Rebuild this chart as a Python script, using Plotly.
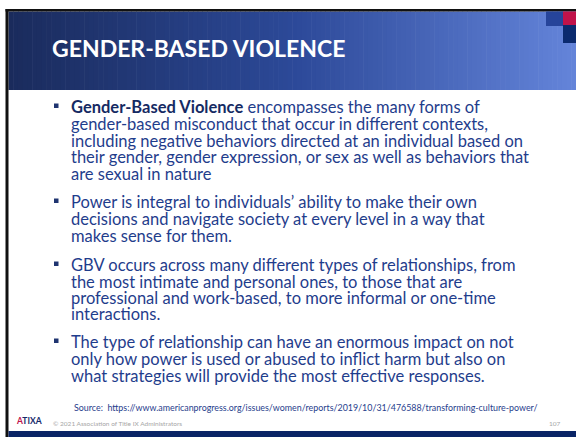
import plotly.graph_objects as go

# ---------------- content ----------------
title_text = "GENDER-BASED VIOLENCE"

bullet1 = [
    "<b><span style='color:#152a63'>Gender-Based Violence</span></b> encompasses the many forms of",
    "gender-based misconduct that occur in different contexts,",
    "including negative behaviors directed at an individual based on",
    "their gender, gender expression, or sex as well as behaviors that",
    "are sexual in nature",
]
bullet2 = [
    "Power is integral to individuals’ ability to make their own",
    "decisions and navigate society at every level in a way that",
    "makes sense for them.",
]
bullet3 = [
    "GBV occurs across many different types of relationships, from",
    "the most intimate and personal ones, to those that are",
    "professional and work-based, to more informal or one-time",
    "interactions.",
]
bullet4 = [
    "The type of relationship can have an enormous impact on not",
    "only how power is used or abused to inflict harm but also on",
    "what strategies will provide the most effective responses.",
]
bullets = [bullet1, bullet2, bullet3, bullet4]

source_text = "Source:  https://www.americanprogress.org/issues/women/reports/2019/10/31/476588/transforming-culture-power/"
copyright_text = "© 2021 Association of Title IX Administrators"
page_number = "107"
logo_text = "<b><span style='color:#c0134a'>A</span>TIXA</b>"

# ---------------- styling ----------------
W, H = 576, 437
BODY_FONT = "Lato, sans-serif"
TEXT_COLOR = "#1f3d8c"

fig = go.Figure()
shapes = []
annotations = []

# frame lines
shapes.append(dict(type="rect", x0=5.5, x1=W, y0=9, y1=11.5, fillcolor="#111111", line_width=0))
shapes.append(dict(type="rect", x0=5.5, x1=8.5, y0=9, y1=H, fillcolor="#111111", line_width=0))

# header gradient
hx0, hx1, hy0, hy1 = 8.5, W, 11.5, 90
stops = [(0.0, (26, 43, 92)), (0.5, (44, 73, 152)), (1.0, (100, 132, 218))]
def grad(t):
    for (t0, c0), (t1, c1) in zip(stops[:-1], stops[1:]):
        if t <= t1:
            f = (t - t0) / (t1 - t0)
            return "rgb(%d,%d,%d)" % tuple(round(a + (b - a) * f) for a, b in zip(c0, c1))
    return "rgb(%d,%d,%d)" % stops[-1][1]
N = 120
for i in range(N):
    xa = hx0 + (hx1 - hx0) * i / N
    xb = hx0 + (hx1 - hx0) * (i + 1) / N + 0.6
    shapes.append(dict(type="rect", x0=xa, x1=xb, y0=hy0, y1=hy1,
                       fillcolor=grad((i + 0.5) / N), line_width=0, layer="below"))

# corner squares
shapes.append(dict(type="rect", x0=546, x1=563, y0=11.5, y1=26, fillcolor="#26449a", line_width=0))
shapes.append(dict(type="rect", x0=563, x1=W, y0=11.5, y1=25, fillcolor="#c0134a", line_width=0))
shapes.append(dict(type="rect", x0=563, x1=W, y0=25, y1=43, fillcolor="#0b2a6e", line_width=0))

# footer bar
shapes.append(dict(type="rect", x0=8.5, x1=W, y0=431, y1=H, fillcolor="#0a2466", line_width=0))

# title
annotations.append(dict(x=50, y=48, xref="x", yref="y", text="<b>" + title_text + "</b>",
                        showarrow=False, xanchor="left", yanchor="middle",
                        font=dict(family=BODY_FONT, size=23, color="white")))

# bullets
bullet_tops = [[100, 117, 134, 150, 167], [195, 212, 229], [258, 275, 291, 307], [335, 352, 369]]
for lines, tops in zip(bullets, bullet_tops):
    shapes.append(dict(type="rect", x0=54, x1=58.5, y0=tops[0] + 3.5, y1=tops[0] + 8,
                       fillcolor="#1f3470", line_width=0))
    for line, top in zip(lines, tops):
        annotations.append(dict(x=68.5, y=top + 7, xref="x", yref="y", text=line,
                                showarrow=False, xanchor="left", yanchor="middle",
                                font=dict(family=BODY_FONT, size=16.5, color=TEXT_COLOR)))

# source
annotations.append(dict(x=72, y=407, xref="x", yref="y", text=source_text,
                        showarrow=False, xanchor="left", yanchor="middle",
                        font=dict(family=BODY_FONT, size=8.9, color=TEXT_COLOR)))

# footer texts
annotations.append(dict(x=13.5, y=421, xref="x", yref="y", text=logo_text,
                        showarrow=False, xanchor="left", yanchor="middle",
                        font=dict(family=BODY_FONT, size=8.5, color="#14286a")))
annotations.append(dict(x=51, y=423, xref="x", yref="y", text=copyright_text,
                        showarrow=False, xanchor="left", yanchor="middle",
                        font=dict(family=BODY_FONT, size=6.5, color="#a6a6a6")))
annotations.append(dict(x=563, y=423, xref="x", yref="y", text=page_number,
                        showarrow=False, xanchor="right", yanchor="middle",
                        font=dict(family=BODY_FONT, size=6.5, color="#a6a6a6")))

fig.update_layout(
    width=W, height=H, margin=dict(l=0, r=0, t=0, b=0),
    paper_bgcolor="white", plot_bgcolor="white", showlegend=False,
    xaxis=dict(range=[0, W], visible=False, fixedrange=True),
    yaxis=dict(range=[H, 0], visible=False, fixedrange=True),
    shapes=shapes, annotations=annotations,
)
fig.write_html("out.html", config={"displayModeBar": False},
               post_script="document.body.style.margin='0';document.body.style.overflow='hidden';")
